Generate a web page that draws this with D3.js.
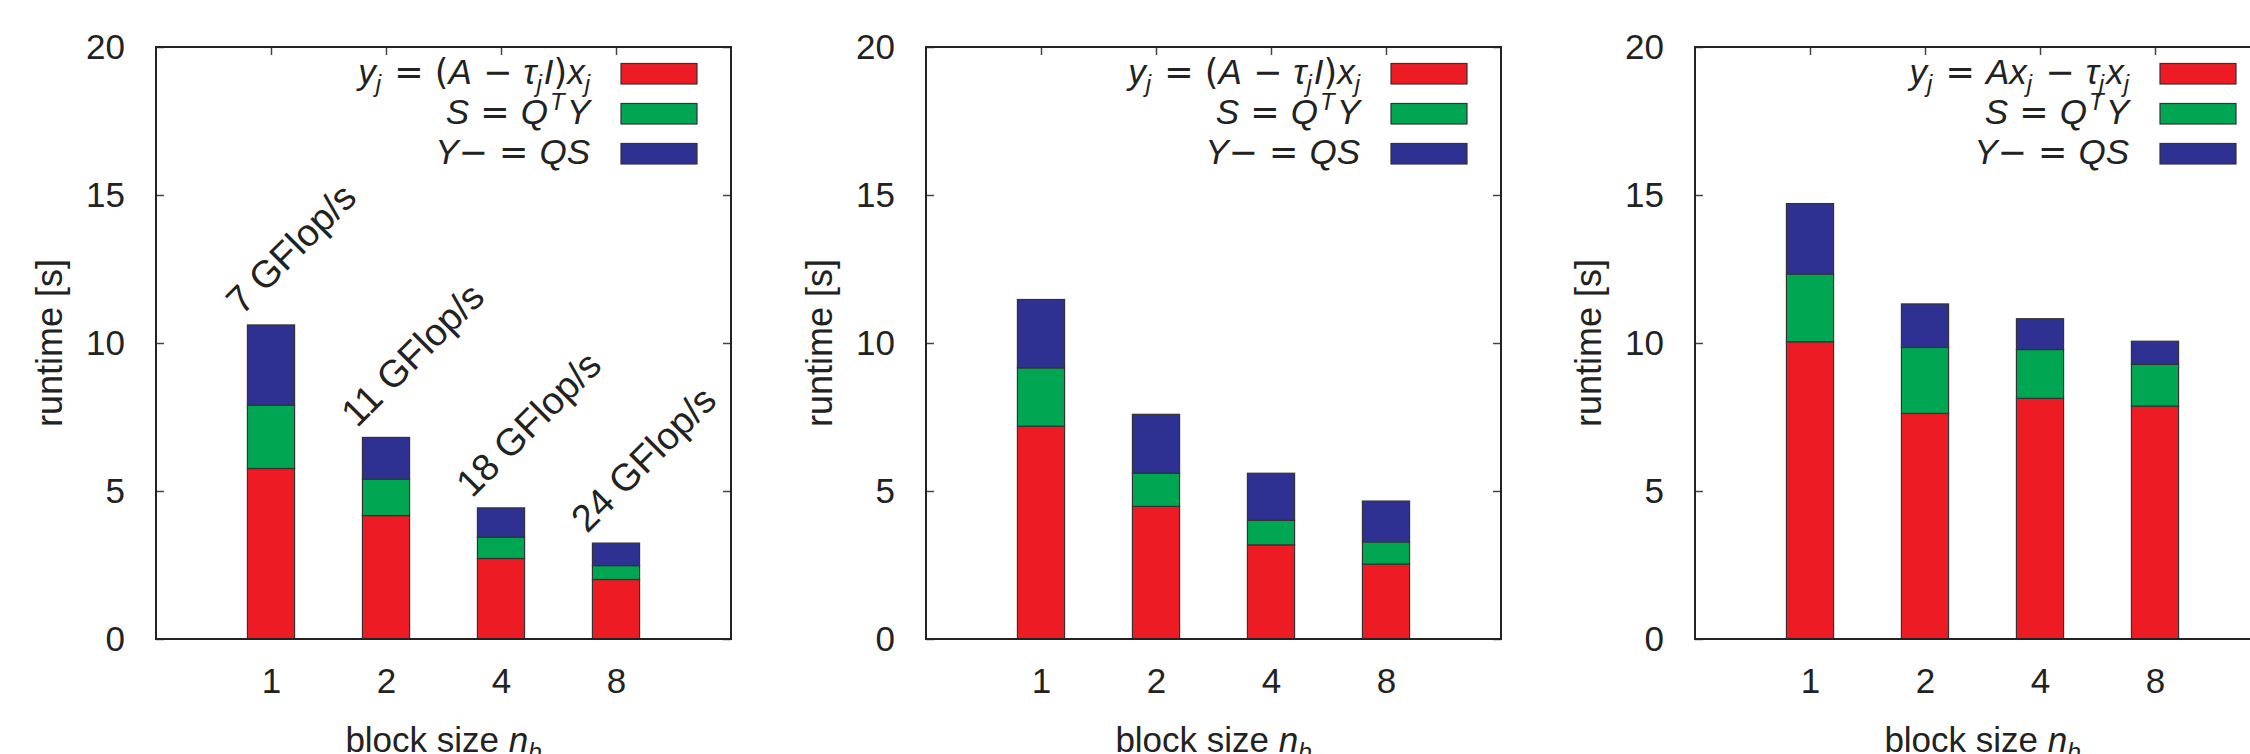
<!DOCTYPE html>
<html lang="en">
<head>
<meta charset="utf-8">
<title>Runtime by block size</title>
<script src="https://cdn.jsdelivr.net/npm/d3@7"></script>
<style>
  body { margin: 0; background: #fff; }
  text { font-family: "Liberation Sans", Arial, Helvetica, sans-serif; fill: #222; }
</style>
</head>
<body>
<script>
// block sizes on the x axis
var categories = ["1", "2", "4", "8"];
var yTicks = [0, 5, 10, 15, 20];

// runtime parts [s]
var leftRed = [5.76, 4.17, 2.72, 2.01];
var leftGreen = [2.14, 1.23, 0.72, 0.47];
var leftBlue = [2.71, 1.41, 0.99, 0.76];

var midRed = [7.19, 4.48, 3.18, 2.53];
var midGreen = [1.97, 1.12, 0.83, 0.75];
var midBlue = [2.31, 1.99, 1.59, 1.38];

var rightRed = [10.04, 7.62, 8.13, 7.87];
var rightGreen = [2.29, 2.23, 1.65, 1.41];
var rightBlue = [2.38, 1.47, 1.04, 0.78];

var flopLabels = ["7 GFlop/s", "11 GFlop/s", "18 GFlop/s", "24 GFlop/s"];

// legend entries: [text, kind]  i = italic, s = subscript, t = superscript, p = plain operator
var rowShift = [["y","i"],["j","s"],[" = (","p"],["A","i"],[" \u2212 ","p"],["\u03C4","i"],["j","s"],["I","i"],[")","p"],["x","i"],["j","s"]];
var rowSplit = [["y","i"],["j","s"],[" = ","p"],["A","i"],["x","i"],["j","s"],[" \u2212 ","p"],["\u03C4","i"],["j","s"],["x","i"],["j","s"]];
var rowProject = [["S","i"],[" = ","p"],["Q","i"],["T","t"],["Y","i"]];
var rowUpdate = [["Y","i"],["\u2212 = ","p"],["QS","i"]];

var colors = ["#ED1C24", "#00A651", "#2E3192"];

var panels = [
  {left: 156, red: leftRed, green: leftGreen, blue: leftBlue, legend: [rowShift, rowProject, rowUpdate], labels: flopLabels},
  {left: 926, red: midRed, green: midGreen, blue: midBlue, legend: [rowShift, rowProject, rowUpdate], labels: null},
  {left: 1695, red: rightRed, green: rightGreen, blue: rightBlue, legend: [rowSplit, rowProject, rowUpdate], labels: null}
];

var width = 2250, height = 754;
var plotW = 575, plotH = 592, plotTop = 47;

var svg = d3.select("body").append("svg")
    .attr("width", width)
    .attr("height", height);

var x = d3.scaleLinear().domain([0, 5]).range([0, plotW]);
var y = d3.scaleLinear().domain([0, 20]).range([plotH, 0]);
var barW = x(0.41) - x(0);

panels.forEach(function(p) {
  var g = svg.append("g").attr("transform", "translate(" + p.left + "," + plotTop + ")");

  var rows = categories.map(function(c, i) {
    return {cat: i + 1, red: p.red[i], green: p.green[i], blue: p.blue[i]};
  });
  var series = d3.stack().keys(["red", "green", "blue"])(rows);

  // axes with inward ticks
  var yAxis = d3.axisLeft(y).tickValues(yTicks).tickSizeInner(-8).tickSizeOuter(0).tickPadding(31);
  var yAxisR = d3.axisRight(y).tickValues(yTicks).tickSizeInner(-8).tickSizeOuter(0).tickFormat("");
  var xAxis = d3.axisBottom(x).tickValues([1, 2, 3, 4]).tickSizeInner(-8).tickSizeOuter(0)
      .tickPadding(29).tickFormat(function(d) { return categories[d - 1]; });
  var xAxisT = d3.axisTop(x).tickValues([1, 2, 3, 4]).tickSizeInner(-8).tickSizeOuter(0).tickFormat("");

  var axes = [
    g.append("g").call(yAxis),
    g.append("g").attr("transform", "translate(" + plotW + ",0)").call(yAxisR),
    g.append("g").attr("transform", "translate(0," + plotH + ")").call(xAxis),
    g.append("g").call(xAxisT)
  ];
  axes.forEach(function(a) {
    a.select(".domain").remove();
    a.selectAll("line").attr("stroke", "#444").attr("stroke-width", 1.5);
    a.selectAll("text").attr("font-size", 35).attr("font-family", null).attr("fill", "#222");
  });

  // stacked bars
  g.selectAll("g.layer")
    .data(series)
    .enter().append("g")
      .attr("class", "layer")
      .attr("fill", function(d, i) { return colors[i]; })
    .selectAll("rect")
    .data(function(d) { return d; })
    .enter().append("rect")
      .attr("x", function(d) { return x(d.data.cat) - barW / 2; })
      .attr("y", function(d) { return y(d[1]); })
      .attr("width", barW)
      .attr("height", function(d) { return y(d[0]) - y(d[1]); })
      .attr("stroke", "#333")
      .attr("stroke-width", 1.2);

  // frame
  g.append("rect")
    .attr("width", plotW).attr("height", plotH)
    .attr("fill", "none").attr("stroke", "#222").attr("stroke-width", 2);

  // performance labels
  if (p.labels) {
    var totals = series[2];
    g.selectAll("text.flop")
      .data(p.labels)
      .enter().append("text")
        .attr("class", "flop")
        .attr("font-size", 38)
        .attr("transform", function(d, i) {
          return "translate(" + (x(i + 1) - 29) + "," + (y(totals[i][1]) - 9) + ") rotate(-45)";
        })
        .text(function(d) { return d; });
  }

  // legend
  p.legend.forEach(function(row, r) {
    var by = 37 + r * 40;
    var t = g.append("text")
      .attr("x", 434).attr("y", by)
      .attr("text-anchor", "end")
      .attr("font-size", 35);
    var shift = 0, prevSmall = false;
    row.forEach(function(seg) {
      var small = seg[1] === "s" || seg[1] === "t";
      var want = seg[1] === "s" ? 8 : (seg[1] === "t" ? -14 : 0);
      t.append("tspan")
        .attr("dy", want - shift)
        .attr("dx", seg[1] === "t" ? 2 : (prevSmall ? 2 : 0))
        .attr("font-size", small ? 24 : 35)
        .attr("font-family", seg[1] === "p" ? "DejaVu Sans" : null)
        .attr("font-style", seg[1] === "p" ? "normal" : "italic")
        .text(seg[0]);
      shift = want;
      prevSmall = small;
    });
    g.append("rect")
      .attr("x", 465).attr("y", by - 20.5)
      .attr("width", 76).attr("height", 20.5)
      .attr("fill", colors[r]).attr("stroke", "#333").attr("stroke-width", 1.2);
  });

  // axis titles
  g.append("text")
    .attr("transform", "translate(-94," + (plotH / 2) + ") rotate(-90)")
    .attr("text-anchor", "middle")
    .attr("font-size", 36)
    .text("runtime [s]");

  var xl = g.append("text")
    .attr("x", plotW / 2).attr("y", plotH + 113)
    .attr("text-anchor", "middle")
    .attr("font-size", 35);
  xl.append("tspan").text("block size ");
  xl.append("tspan").attr("font-style", "italic").text("n");
  xl.append("tspan").attr("font-style", "italic").attr("font-size", 24).attr("dy", 8).text("b");
});
</script>
</body>
</html>
